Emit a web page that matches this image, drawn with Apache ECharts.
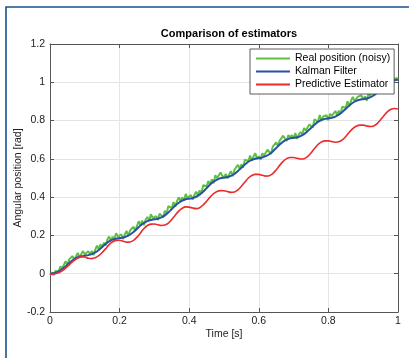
<!DOCTYPE html>
<html>
<head>
<meta charset="utf-8">
<script src="https://cdn.jsdelivr.net/npm/echarts@6/dist/echarts.min.js"></script>
<style>html,body{margin:0;padding:0;background:#fff;}#c{width:409px;height:358px;}</style>
</head>
<body>
<div id="c"></div>
<script>
// ---- data ----
const titleText = 'Comparison of estimators';
const xName = 'Time [s]';
const yName = 'Angular position [rad]';
const seriesNames = ['Real position (noisy)', 'Kalman Filter', 'Predictive Estimator'];
const xTicks = [0, 0.2, 0.4, 0.6, 0.8, 1];
const yTicks = [-0.2, 0, 0.2, 0.4, 0.6, 0.8, 1, 1.2];

const stepSmooth = 0.01;   // sample time of the estimator curves
const stepNoisy = 0.005;   // sample time of the measured position

const realNoisy = [
 -0.007,0.007,-0.007,0.014,0.023,0.012,0.039,0.027,0.047,0.065,
 0.045,0.075,0.068,0.092,0.069,0.092,0.109,0.083,0.103,0.118,
 0.100,0.091,0.118,0.100,0.119,0.097,0.126,0.146,0.128,0.154,
 0.138,0.162,0.147,0.179,0.194,0.172,0.193,0.181,0.211,0.194,
 0.184,0.205,0.180,0.205,0.224,0.197,0.226,0.218,0.245,0.225,
 0.250,0.274,0.253,0.277,0.254,0.283,0.296,0.277,0.311,0.290,
 0.284,0.301,0.281,0.314,0.304,0.293,0.329,0.314,0.353,0.348,
 0.343,0.374,0.350,0.379,0.399,0.380,0.398,0.381,0.417,0.396,
 0.388,0.411,0.387,0.412,0.428,0.409,0.435,0.418,0.462,0.453,
 0.457,0.484,0.466,0.493,0.473,0.514,0.500,0.493,0.529,0.512,
 0.500,0.521,0.498,0.519,0.536,0.509,0.543,0.538,0.569,0.547,
 0.572,0.554,0.596,0.591,0.588,0.617,0.590,0.613,0.629,0.600,
 0.614,0.595,0.629,0.618,0.613,0.648,0.642,0.625,0.664,0.657,
 0.686,0.667,0.695,0.686,0.721,0.706,0.694,0.725,0.711,0.724,
 0.706,0.735,0.704,0.727,0.740,0.727,0.761,0.748,0.743,0.779,
 0.776,0.764,0.806,0.803,0.794,0.829,0.798,0.821,0.813,0.828,
 0.802,0.835,0.824,0.815,0.850,0.829,0.852,0.835,0.872,0.870,
 0.867,0.901,0.874,0.903,0.924,0.903,0.898,0.925,0.915,0.932,
 0.908,0.927,0.904,0.939,0.928,0.955,0.934,0.955,0.944,0.979,
 0.994,0.978,0.995,0.982,1.017,1.008,1.001,1.024,1.012,1.023,
 1.016
];

const kalman = [
 0.000,0.003,0.008,0.018,0.031,0.047,0.063,0.076,0.086,0.091,
 0.094,0.097,0.102,0.111,0.124,0.140,0.156,0.169,0.178,0.183,
 0.186,0.189,0.195,0.205,0.218,0.235,0.252,0.265,0.275,0.281,
 0.284,0.287,0.294,0.305,0.320,0.338,0.356,0.371,0.382,0.389,
 0.392,0.395,0.402,0.413,0.428,0.447,0.466,0.481,0.492,0.499,
 0.502,0.505,0.511,0.521,0.536,0.553,0.570,0.585,0.595,0.601,
 0.604,0.607,0.614,0.624,0.639,0.657,0.675,0.690,0.700,0.707,
 0.710,0.713,0.719,0.729,0.744,0.761,0.778,0.793,0.803,0.809,
 0.812,0.815,0.821,0.831,0.845,0.862,0.879,0.893,0.903,0.909,
 0.912,0.915,0.921,0.931,0.945,0.963,0.980,0.994,1.004,1.010,
 1.013
];

const predictive = [
 -0.003,-0.002,0.002,0.010,0.022,0.038,0.055,0.071,0.082,0.088,
 0.087,0.081,0.079,0.083,0.094,0.111,0.131,0.152,0.167,0.174,
 0.175,0.170,0.165,0.166,0.174,0.191,0.213,0.236,0.252,0.259,
 0.260,0.256,0.252,0.254,0.264,0.283,0.306,0.327,0.342,0.349,
 0.348,0.343,0.340,0.345,0.359,0.379,0.400,0.418,0.430,0.434,
 0.433,0.429,0.425,0.427,0.438,0.457,0.479,0.500,0.513,0.519,
 0.519,0.514,0.510,0.512,0.523,0.543,0.566,0.587,0.601,0.607,
 0.607,0.603,0.599,0.601,0.612,0.631,0.654,0.675,0.688,0.694,
 0.694,0.690,0.687,0.689,0.699,0.717,0.739,0.758,0.770,0.776,
 0.776,0.772,0.769,0.772,0.784,0.804,0.827,0.847,0.859,0.863,
 0.860
];

// ---- chart ----
const FONT = '"Liberation Sans", Arial, Helvetica, sans-serif';
const toPairs = (arr, step) => arr.map((v, i) => [+(i * step).toFixed(4), v]);
const colors = ['#5cc142', '#2c4fa8', '#ee2b2b'];
const axisCol = '#555555';
const gridCol = '#e4e4e4';

const chart = echarts.init(document.getElementById('c'), null, {renderer: 'canvas'});

const baseX = {
  type: 'value', min: xTicks[0], max: xTicks[xTicks.length - 1], interval: xTicks[1] - xTicks[0],
  gridIndex: 0
};
const baseY = {
  type: 'value', min: yTicks[0], max: yTicks[yTicks.length - 1], interval: yTicks[1] - yTicks[0],
  gridIndex: 0
};

chart.setOption({
  animation: false,
  backgroundColor: '#ffffff',
  textStyle: {fontFamily: FONT},
  graphic: [{
    type: 'rect', z: 100, silent: true,
    shape: {x: 6, y: 7, width: 480, height: 400},
    style: {fill: 'none', stroke: '#1d4f92', lineWidth: 1.6}
  }],
  title: {
    text: titleText, left: 224, top: 23, textAlign: 'center',
    textStyle: {fontFamily: FONT, fontSize: 11, fontWeight: 'bold', color: '#000'}
  },
  grid: {left: 50, right: 11, top: 44, bottom: 46, containLabel: false},
  legend: {
    data: seriesNames, orient: 'vertical', left: 250, top: 49,
    width: 143,
    backgroundColor: '#ffffff', borderColor: '#333333', borderWidth: 0.8,
    padding: [3, 4, 3, 6], itemGap: 0, itemWidth: 34, itemHeight: 2,
    icon: 'rect', z: 10,
    textStyle: {fontFamily: FONT, fontSize: 10.5, color: '#000', lineHeight: 13}
  },
  xAxis: [
    Object.assign({}, baseX, {
      position: 'bottom', name: xName, nameLocation: 'middle', nameGap: 17, nameMoveOverlap: false,
      nameTextStyle: {fontFamily: FONT, fontSize: 10.5, color: '#222'},
      axisLine: {show: true, onZero: false, lineStyle: {color: axisCol, width: 1}},
      axisTick: {show: true, inside: true, length: 4, lineStyle: {color: axisCol}},
      axisLabel: {fontFamily: FONT, fontSize: 10.5, color: '#222', margin: 4},
      splitLine: {show: true, lineStyle: {color: gridCol, width: 1}}
    }),
    Object.assign({}, baseX, {
      position: 'top',
      axisLine: {show: true, onZero: false, lineStyle: {color: axisCol, width: 1}},
      axisTick: {show: true, inside: true, length: 4, lineStyle: {color: axisCol}},
      axisLabel: {show: false}, splitLine: {show: false}
    })
  ],
  yAxis: [
    Object.assign({}, baseY, {
      position: 'left', name: yName, nameLocation: 'middle', nameGap: 26, nameRotate: 90,
      nameMoveOverlap: false,
      nameTextStyle: {fontFamily: FONT, fontSize: 10.5, color: '#222'},
      axisLine: {show: true, onZero: false, lineStyle: {color: axisCol, width: 1}},
      axisTick: {show: true, inside: true, length: 4, lineStyle: {color: axisCol}},
      axisLabel: {fontFamily: FONT, fontSize: 10.5, color: '#222', margin: 5},
      splitLine: {show: true, lineStyle: {color: gridCol, width: 1}}
    }),
    Object.assign({}, baseY, {
      position: 'right',
      axisLine: {show: true, onZero: false, lineStyle: {color: axisCol, width: 1}},
      axisTick: {show: true, inside: true, length: 4, lineStyle: {color: axisCol}},
      axisLabel: {show: false}, splitLine: {show: false}
    })
  ],
  series: [
    {name: seriesNames[0], type: 'line', data: toPairs(realNoisy, stepNoisy), showSymbol: false,
     color: colors[0], lineStyle: {color: colors[0], width: 2}, z: 2},
    {name: seriesNames[1], type: 'line', data: toPairs(kalman, stepSmooth), showSymbol: false, smooth: 0.3,
     color: colors[1], lineStyle: {color: colors[1], width: 2}, z: 3},
    {name: seriesNames[2], type: 'line', data: toPairs(predictive, stepSmooth), showSymbol: false, smooth: 0.3,
     color: colors[2], lineStyle: {color: colors[2], width: 1.6}, z: 4}
  ]
});
</script>
</body>
</html>
